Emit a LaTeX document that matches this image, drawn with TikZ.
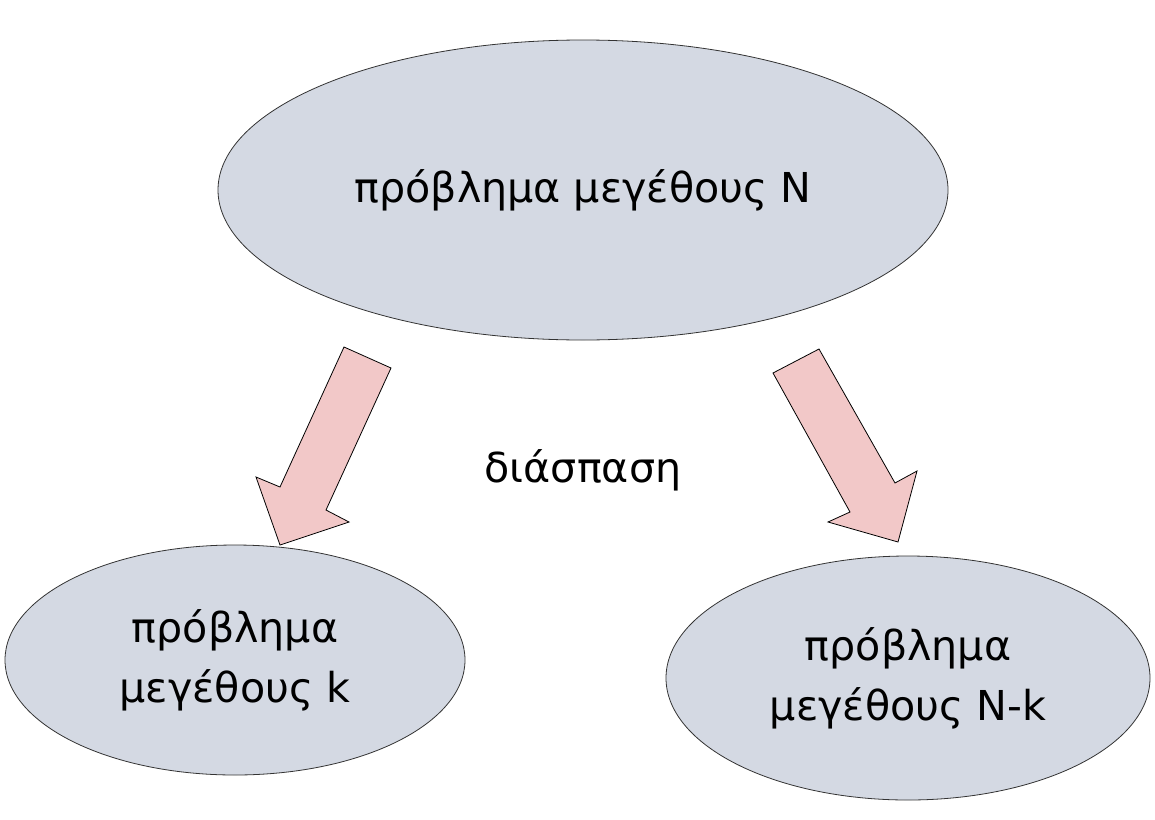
\documentclass[tikz,border=0pt]{standalone}
\usepackage{fontspec}
\setmainfont{DejaVu Sans}
\usetikzlibrary{shapes.geometric}
\definecolor{blobfill}{HTML}{D4D9E3}
\definecolor{arrowfill}{HTML}{F2C8C8}

\begin{document}
\begin{tikzpicture}[x=0.5pt,y=-0.5pt]
    \useasboundingbox (0,0) rectangle (1155,819);
    \tikzset{blob/.style={ellipse, draw=black!80, fill=blobfill, inner sep=0pt,
        font=\fontsize{20.6}{30}\selectfont, align=center}}
    \node[blob, minimum width=365pt, minimum height=150pt] (whole) at (583,190)
        {πρόβλημα μεγέθους N};
    \node[blob, minimum width=230pt, minimum height=115pt] (left) at (235,660)
        {πρόβλημα\\μεγέθους k};
    \node[blob, minimum width=242pt, minimum height=122pt] (right) at (908,678)
        {πρόβλημα\\μεγέθους N-k};
    \node[font=\fontsize{20.6}{24}\selectfont] (split) at (583,470) {διάσπαση};
    \filldraw[fill=arrowfill, draw=black] (344,347) -- (391,368) -- (326,510)
        -- (349,522) -- (280,545) -- (256,477) -- (280,487) -- cycle;
    \filldraw[fill=arrowfill, draw=black] (773,373) -- (819,349) -- (895,483)
        -- (917,471) -- (898,542) -- (828,522) -- (850,512) -- cycle;
\end{tikzpicture}
\end{document}
